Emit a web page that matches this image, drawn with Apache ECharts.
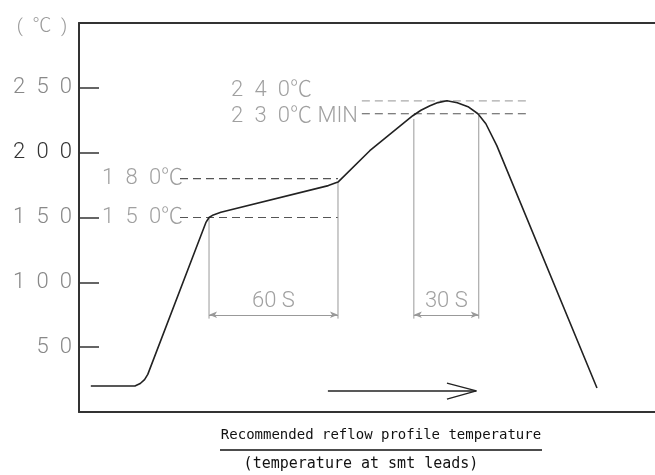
<!DOCTYPE html>
<html>
<head>
<meta charset="utf-8">
<script src="https://cdn.jsdelivr.net/npm/echarts@6/dist/echarts.min.js"></script>
<style>
html,body{margin:0;padding:0;background:#fff;}
#chart{width:655px;height:475px;}
</style>
</head>
<body>
<div id="chart"></div>
<script>
// ---- data (time in seconds, temperature in °C) ----
const profileTime = [5.5, 26, 28.5, 30.5, 32, 59, 60.5, 62.5, 66, 116, 120.5, 135.3, 155.3, 159.1, 163.3, 167, 171.2, 176, 181, 185.6, 189.3, 194.4, 241];
const profileTemp = [20, 20, 22, 25, 29, 146, 150, 152, 154, 174.6, 177.3, 201.5, 228.5, 232.7, 236.2, 238.6, 240, 238.5, 235.5, 230, 222.3, 205.4, 18.5];

const levelValues = [150, 180, 230, 240];
const levelStart  = [47, 47, 131.6, 131.6];
const levelEnd    = [120.5, 120.5, 208.4, 208.4];
const levelLabels = ['1\u20025\u20020℃', '1\u20028\u20020℃', '2\u20023\u20020℃ MIN', '2\u20024\u20020℃'];
const levelLabelTime = [10.5, 10.5, 70.5, 70.5];
const levelLabelTemp = [150, 180, 228, 248];

const windowNames = ['60 S', '30 S'];
const windowStart = [60.5, 155.8];
const windowEnd   = [120.5, 186];
const windowStartTemp = [150, 226];
const windowEndTemp   = [177, 228.5];
const dimTemp = 75;
const dimBottom = 72;
const windowLabelTemp = 85.4;

const arrowTime = [115.8, 184.9];
const arrowHeadTime = [171.2, 184.9, 171.2];
const arrowHeadTemp = [22.3, 16.2, 10];
const arrowTemp = 16.2;

const yTicks = [50, 100, 150, 200, 250];
const yMin = 0, yMax = 300, yStep = 50;
const xMin = 0, xMax = 268;

const captionTitle = 'Recommended reflow profile temperature';
const captionSub = '(temperature at smt leads)';
const unitLabel = '(\u2002℃\u2002)';

// ---- build options ----
const labelFont = "Roboto, 'Noto Sans CJK JP', 'DejaVu Sans Condensed', sans-serif";
const labelWeight = 300;
const series = [];

series.push({
  type: 'line', data: profileTime.map((t, i) => [t, profileTemp[i]]),
  symbol: 'none', lineStyle: { color: '#222', width: 1.6 }, z: 5, silent: true
});

levelValues.forEach((v, i) => {
  series.push({
    type: 'line', data: [[levelStart[i], v], [levelEnd[i], v]], symbol: 'none', silent: true,
    lineStyle: { color: v === 240 ? '#aaa' : '#555', width: 1.2, type: [8, 5] }
  });
});

windowNames.forEach((n, i) => {
  series.push({
    type: 'line', data: [[windowStart[i], dimBottom], [windowStart[i], windowStartTemp[i]]],
    symbol: 'none', silent: true, lineStyle: { color: '#999', width: 1 }
  });
  series.push({
    type: 'line', data: [[windowEnd[i], dimBottom], [windowEnd[i], windowEndTemp[i]]],
    symbol: 'none', silent: true, lineStyle: { color: '#999', width: 1 },
    markLine: {
      silent: true, symbol: ['arrow', 'arrow'], symbolSize: [5, 8],
      lineStyle: { color: '#999', width: 1, type: 'solid' }, label: { show: false },
      data: [[{ coord: [windowStart[i], dimTemp] }, { coord: [windowEnd[i], dimTemp] }]]
    }
  });
});

// bottom arrow
series.push({
  type: 'line', data: [[arrowTime[0], arrowTemp], [arrowTime[1], arrowTemp]],
  symbol: 'none', silent: true, lineStyle: { color: '#222', width: 1.6 }
});
series.push({
  type: 'line', data: arrowHeadTime.map((t, i) => [t, arrowHeadTemp[i]]),
  symbol: 'none', silent: true, lineStyle: { color: '#222', width: 1.3 }
});

// text labels
const textData = levelLabels.map((s, i) => ({ value: [levelLabelTime[i], levelLabelTemp[i]], name: s, pos: 'right' }))
  .concat(windowNames.map((s, i) => ({ value: [(windowStart[i] + windowEnd[i]) / 2, windowLabelTemp], name: s, pos: 'inside' })));
series.push({
  type: 'scatter', symbolSize: 1, itemStyle: { color: 'rgba(0,0,0,0)' }, silent: true,
  data: textData.map(d => ({
    value: d.value, name: d.name,
    label: {
      show: true, position: d.pos, distance: 0, formatter: d.name,
      fontFamily: labelFont, fontSize: 22, color: '#888', fontWeight: labelWeight
    }
  }))
});

const option = {
  animation: false,
  grid: { left: 79, right: 0, top: 23, bottom: 63, containLabel: false },
  xAxis: [
    { type: 'value', min: xMin, max: xMax, position: 'bottom',
      axisLine: { show: true, lineStyle: { color: '#333', width: 2 } },
      axisTick: { show: false }, axisLabel: { show: false }, splitLine: { show: false } },
    { type: 'value', min: xMin, max: xMax, position: 'top',
      axisLine: { show: true, lineStyle: { color: '#333', width: 2 } },
      axisTick: { show: false }, axisLabel: { show: false }, splitLine: { show: false } }
  ],
  yAxis: {
    type: 'value', min: yMin, max: yMax, interval: yStep,
    axisLine: { show: true, lineStyle: { color: '#333', width: 2 } },
    axisTick: { show: true, inside: true, length: 20, lineStyle: { color: '#333', width: 1.5 } },
    splitLine: { show: false },
    axisLabel: {
      margin: 7, fontFamily: labelFont, fontSize: 22, fontWeight: labelWeight,
      color: (v) => (Number(v) === 200 ? '#333' : '#888'),
      formatter: (v) => (yTicks.indexOf(v) >= 0 ? String(v).split('').join('\u2002') : '')
    }
  },
  graphic: [
    { type: 'text', x: 42, y: 27, style: { text: unitLabel, align: 'center', verticalAlign: 'middle', font: labelWeight + " 19px " + labelFont, fill: '#999' } },
    { type: 'text', x: 381, y: 435, style: { text: captionTitle, align: 'center', verticalAlign: 'middle', font: "14px 'DejaVu Sans Mono', monospace", fill: '#111' } },
    { type: 'line', shape: { x1: 220, y1: 450, x2: 542, y2: 450 }, style: { stroke: '#111', lineWidth: 1.3 } },
    { type: 'text', x: 361, y: 464, style: { text: captionSub, align: 'center', verticalAlign: 'middle', font: "15px 'DejaVu Sans Mono', monospace", fill: '#111' } }
  ],
  series: series
};

const chart = echarts.init(document.getElementById('chart'), null, { renderer: 'canvas' });
chart.setOption(option);
</script>
</body>
</html>
